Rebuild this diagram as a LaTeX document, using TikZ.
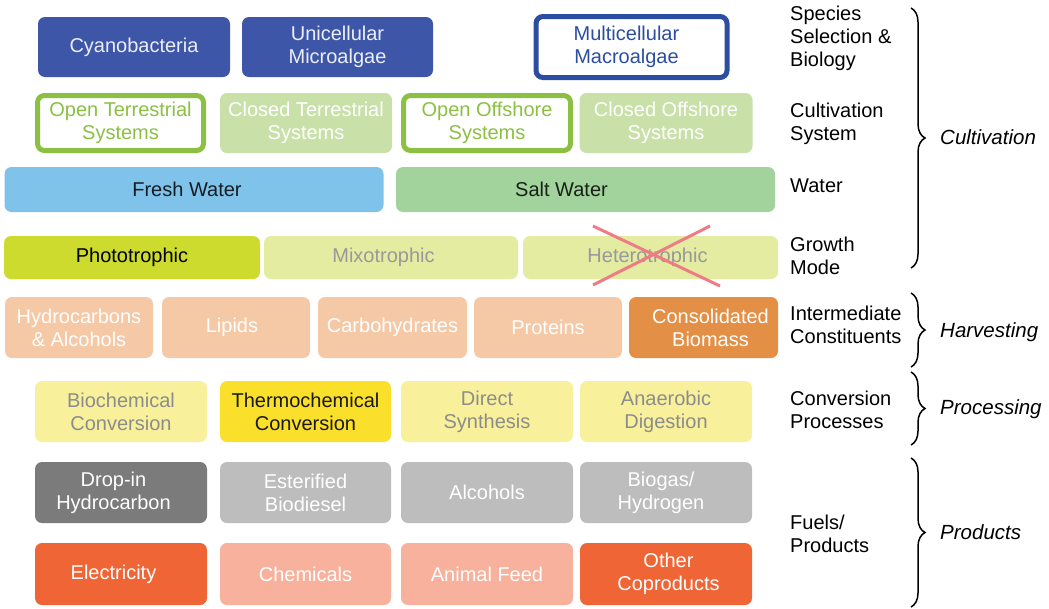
\documentclass[tikz,border=0pt]{standalone}
\usepackage{fontspec}
\setmainfont{Liberation Sans}
\usetikzlibrary{decorations.pathreplacing}
\definecolor{speciesblue}{HTML}{3E56A8}
\definecolor{macroblue}{HTML}{2B4EA2}
\definecolor{opengreen}{HTML}{8CC043}
\definecolor{closedgreen}{HTML}{C9E1A9}
\definecolor{freshblue}{HTML}{80C3EA}
\definecolor{saltgreen}{HTML}{A2D39C}
\definecolor{photolime}{HTML}{CCDB2E}
\definecolor{palelime}{HTML}{E4ECA2}
\definecolor{peach}{HTML}{F5C8A6}
\definecolor{biomass}{HTML}{E38F45}
\definecolor{paleyellow}{HTML}{F8F09B}
\definecolor{thermoyellow}{HTML}{FBE02B}
\definecolor{dropgray}{HTML}{7B7B7B}
\definecolor{fuelgray}{HTML}{BDBDBD}
\definecolor{coprodred}{HTML}{F06535}
\definecolor{salmon}{HTML}{F7B19C}
\definecolor{crossred}{HTML}{EE7C84}

\begin{document}
\begin{tikzpicture}[x=1pt, y=-1pt,
    box/.style={rounded corners=7pt, align=center, inner sep=1pt, text=white, font=\fontsize{20}{23}\selectfont},
    outl/.style={box, fill=white, line width=5pt},
    lbl/.style={anchor=west, align=left, inner sep=0pt, font=\fontsize{20}{23}\selectfont},
    stage/.style={anchor=west, inner sep=0pt, font=\fontsize{20.5}{23}\selectfont\itshape},
    brc/.style={decorate, decoration={brace, amplitude=14pt}, line width=1.5pt}]
    \useasboundingbox (0,0) rectangle (1049,608);

    % species
    \node[box, fill=speciesblue, text=white!90!speciesblue, minimum width=192pt, minimum height=60pt] (cyano) at (134,47) {Cyanobacteria};
    \node[box, fill=speciesblue, text=white!90!speciesblue, minimum width=191pt, minimum height=60pt] (unicell) at (337.5,47) {Unicellular\\Microalgae};
    \node[outl, draw=macroblue, text=macroblue, minimum width=191pt, minimum height=61pt] (multicell) at (631.5,47) {\hspace*{-10pt}Multicellular\\\hspace*{-10pt}Macroalgae};

    % cultivation systems
    \node[outl, draw=opengreen, text=opengreen, minimum width=166pt, minimum height=55pt] (openterr) at (120.5,123) {Open Terrestrial\\Systems};
    \node[box, fill=closedgreen, minimum width=172pt, minimum height=60pt] (closedterr) at (306,123) {Closed Terrestrial\\Systems};
    \node[outl, draw=opengreen, text=opengreen, minimum width=167pt, minimum height=55pt] (openoff) at (487,123) {Open Offshore\\Systems};
    \node[box, fill=closedgreen, minimum width=173pt, minimum height=60pt] (closedoff) at (666,123) {Closed Offshore\\Systems};

    % water
    \node[box, fill=freshblue, text=black!85!freshblue, minimum width=379pt, minimum height=45pt] (fresh) at (194,189.5) {\hspace*{-14pt}Fresh Water};
    \node[box, fill=saltgreen, text=black!85!saltgreen, minimum width=379pt, minimum height=45pt] (salt) at (585.5,189.5) {\hspace*{-48pt}Salt Water};

    % growth mode
    \node[box, fill=photolime, text=black, minimum width=256pt, minimum height=43pt] (photo) at (132,257.5) {Phototrophic};
    \node[box, fill=palelime, text=gray!80, minimum width=254pt, minimum height=43pt] (mixo) at (391,257.5) {\hspace*{-15pt}Mixotrophic};
    \node[box, fill=palelime, text=gray!80, minimum width=255pt, minimum height=43pt] (hetero) at (650.5,257.5) {\hspace*{-6pt}Heterotrophic};
    \draw[crossred, line width=3pt] (593,226) -- (720,286) (710,226) -- (593,285);

    % constituents
    \node[box, fill=peach, minimum width=148pt, minimum height=61pt] (hydro) at (79,327.5) {Hydrocarbons\\\& Alcohols};
    \node[box, fill=peach, minimum width=148pt, minimum height=61pt] (lipids) at (236,327.5) {\hspace*{-8pt}Lipids};
    \node[box, fill=peach, minimum width=149pt, minimum height=61pt] (carbo) at (392.5,327.5) {Carbohydrates};
    \node[box, fill=peach, minimum width=148pt, minimum height=61pt] (protein) at (548,327.5) {Proteins};
    \node[box, fill=biomass, minimum width=149pt, minimum height=61pt] (biomass) at (703.5,327.5) {\hspace*{14pt}Consolidated\\\hspace*{14pt}Biomass};

    % conversion
    \node[box, fill=paleyellow, text=gray!90, minimum width=172pt, minimum height=61pt] (biochem) at (121,411.5) {Biochemical\\Conversion};
    \node[box, fill=thermoyellow, text=black!90, minimum width=171pt, minimum height=61pt] (thermo) at (305.5,411.5) {Thermochemical\\Conversion};
    \node[box, fill=paleyellow, text=gray!90, minimum width=172pt, minimum height=61pt] (direct) at (487,411.5) {Direct\\Synthesis};
    \node[box, fill=paleyellow, text=gray!90, minimum width=172pt, minimum height=61pt] (anaerobic) at (666,411.5) {Anaerobic\\Digestion};

    % fuels
    \node[box, fill=dropgray, minimum width=172pt, minimum height=61pt] (dropin) at (121,492.5) {\hspace*{-15pt}Drop-in\\\hspace*{-15pt}Hydrocarbon};
    \node[box, fill=fuelgray, minimum width=171pt, minimum height=61pt] (biodiesel) at (305.5,492.5) {Esterified\\Biodiesel};
    \node[box, fill=fuelgray, minimum width=172pt, minimum height=61pt] (alcohols) at (487,492.5) {Alcohols};
    \node[box, fill=fuelgray, minimum width=172pt, minimum height=61pt] (biogas) at (666,492.5) {\hspace*{-10pt}Biogas/\\\hspace*{-10pt}Hydrogen};

    % products
    \node[box, fill=coprodred, minimum width=172pt, minimum height=62pt] (elec) at (121,574) {\hspace*{-15pt}Electricity};
    \node[box, fill=salmon, minimum width=171pt, minimum height=62pt] (chem) at (305.5,574) {Chemicals};
    \node[box, fill=salmon, minimum width=172pt, minimum height=62pt] (feed) at (487,574) {Animal Feed};
    \node[box, fill=coprodred, minimum width=172pt, minimum height=62pt] (coprod) at (666,574) {\hspace*{5pt}Other\\\hspace*{5pt}Coproducts};

    % row labels
    \node[lbl] (lspecies) at (790,38.5) {Species\\Selection \&\\Biology};
    \node[lbl] (lsystem) at (790,123.5) {Cultivation\\System};
    \node[lbl] (lwater) at (790,186) {Water};
    \node[lbl] (lgrowth) at (790,256) {Growth\\Mode};
    \node[lbl] (lconst) at (790,325) {Intermediate\\Constituents};
    \node[lbl] (lconv) at (790,410) {Conversion\\Processes};
    \node[lbl] (lfuels) at (790,533.5) {Fuels/\\Products};

    % stages
    \draw[brc] (911,8) -- (911,268);
    \draw[brc] (911,293) -- (911,367);
    \draw[brc] (911,372) -- (911,445);
    \draw[brc] (911,458) -- (911,607);
    \node[stage] (cultiv) at (940,137) {Cultivation};
    \node[stage] (harvest) at (940,332) {Harvesting};
    \node[stage] (process) at (940,409) {Processing};
    \node[stage] (products) at (940,532) {Products};
\end{tikzpicture}
\end{document}
